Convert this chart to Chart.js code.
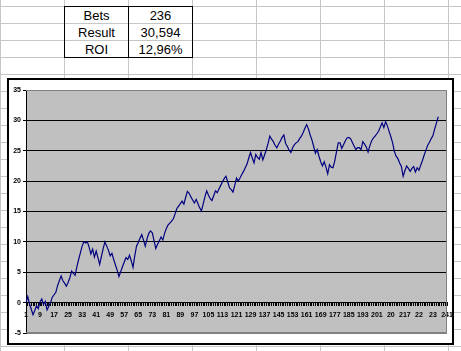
<!DOCTYPE html>
<html><head><meta charset="utf-8">
<script src="https://cdn.jsdelivr.net/npm/chart.js@4"></script>
<style>
html,body{margin:0;padding:0;}
body{width:461px;height:351px;overflow:hidden;position:relative;background:#fff;
 background-image:linear-gradient(to right,#c6c6c6 1px,transparent 1px),linear-gradient(to bottom,#c6c6c6 1px,transparent 1px);
 background-size:64px 100%,100% 17px;background-position:0 0,0 6px;
 font-family:"Liberation Sans",Arial,sans-serif;}
#tbl{position:absolute;left:64px;top:6px;width:129px;height:52px;box-sizing:border-box;border:1px solid #000;background:transparent;}
#tbl .c{position:absolute;height:17px;line-height:17px;font-size:13px;text-align:center;color:#000;}
#tbl .div{position:absolute;left:63px;top:0;width:1px;height:50px;background:#000;}
#box{position:absolute;left:7px;top:78px;width:447px;height:267px;box-sizing:border-box;border:2px solid #000;background:#fff;}
#box canvas{display:block;}
</style></head><body>
<div id="tbl"></div>
<div id="box"><canvas id="c" width="443" height="263"></canvas></div>
<script>
const tableLabels = ['Bets','Result','ROI'];
const tableValues = ['236','30,594','12,96%'];
const categories = Array.from({length:241},(_, i)=>String(i+1));
const shownTickLabels = ['1','9','17','25','33','41','49','57','65','73','81','89','97','105','113','121','129','137','145','153','161','169','177','185','193','201','20','217','22','23','241'];
const yTicks = [-5,0,5,10,15,20,25,30,35];
const result = [
0,1,-0.2,-1.1,-2,-1.3,-0.5,-1,0.1,0.6,
-0.3,0.2,-1.2,-0.6,0,0.9,1.3,1.7,2.8,3.6,
4.4,3.6,3.2,2.7,3.3,4.1,5.2,4.8,4.5,5.9,
7.1,8.2,9.3,10,9.8,10,9.1,8,8.8,7.5,
8.5,7.4,6.3,7.6,8.9,10,9.3,8.6,7.7,8.1,
7.1,6.2,5.3,4.3,5.1,5.9,6.7,7.4,7.1,7.8,
6.9,5.8,7.7,9.3,9.9,10.6,11.2,10.3,9.3,10.5,
11.4,11.8,11.5,10.2,8.9,9.6,10.2,10.8,10.3,11.4,
12.2,12.8,13.1,13.4,13.8,14.6,15.5,15.9,16.3,16.7,
16.2,17.3,18.3,18,17.4,16.9,16.4,17,16.3,15.6,
15.1,16.2,17.4,18.4,17.7,17.1,16.8,17.6,18.4,18.1,
18.7,19.3,19.9,20.4,20.8,19.9,18.9,18.6,18.2,19.3,
20.5,20,20.5,21.1,21.6,22.2,22.8,23.8,24.7,23.8,
23,24.4,23.9,23.6,24.7,23.5,24.3,25.2,26.2,27.4,
26.9,26.5,25.9,25.5,26.1,26.6,27.2,27.6,26.2,25.7,
25.1,24.7,25.5,26,26.3,26.5,27,27.4,28,28.7,
29.3,28.6,27.6,26.8,25.7,24.6,25.2,24.1,23.2,22.5,
23.2,22.3,21.2,22.7,22.3,22.2,23.3,24.8,26.3,
26.3,25.4,26,26.6,27.1,27.2,27,26.4,25.8,25.2,
25.5,25.5,25.2,26.5,26.1,25.6,24.8,25.8,26.6,27.1,
27.4,27.8,28.2,28.9,29.6,28.8,29.8,29.1,28.2,27.3,
26.3,24.9,24.1,23.7,23,22.4,20.8,21.7,22.5,22.1,
21.6,22.1,22.4,21.5,22.2,21.8,22.6,23.4,24.3,25.1,
25.9,26.4,27,27.5,28.6,29.6,30.594
];

// table
const tbl = document.getElementById('tbl');
tableLabels.forEach((l,i)=>{
  const a=document.createElement('div');a.className='c';a.style.left='0px';a.style.width='63px';a.style.top=(i*17)+'px';a.textContent=l;tbl.appendChild(a);
  const b=document.createElement('div');b.className='c';b.style.left='64px';b.style.width='63px';b.style.top=(i*17)+'px';b.textContent=tableValues[i];tbl.appendChild(b);
});
const d=document.createElement('div');d.className='div';tbl.appendChild(d);

const plotBg = {
  id:'plotBg',
  beforeDraw(chart){
    const {ctx,chartArea:a}=chart;
    ctx.save();ctx.fillStyle='#c0c0c0';ctx.fillRect(a.left,a.top,a.right-a.left,a.bottom-a.top);ctx.restore();
  },
  beforeDatasetsDraw(chart){
    const {ctx,chartArea:a}=chart;
    ctx.save();ctx.strokeStyle='#808080';ctx.lineWidth=1;
    ctx.beginPath();ctx.moveTo(a.left,a.top+0.5);ctx.lineTo(a.right-0.5,a.top+0.5);ctx.lineTo(a.right-0.5,a.bottom-0.5);ctx.lineTo(a.left,a.bottom-0.5);ctx.stroke();
    ctx.restore();
  }
};

const tickFont = {family:'"Liberation Sans", Arial, sans-serif', size:7, weight:'bold'};
new Chart(document.getElementById('c'),{
  type:'line',
  data:{labels:categories,datasets:[{data:result,borderColor:'#000080',borderWidth:1.2,pointRadius:0,tension:0,fill:false}]},
  options:{
    responsive:false,animation:false,
    layout:{padding:{left:0,top:10,right:5,bottom:10}},
    plugins:{legend:{display:false},tooltip:{enabled:false}},
    scales:{
      x:{type:'category',position:{y:0},offset:false,
        grid:{drawOnChartArea:false,drawTicks:true,tickLength:3,tickColor:'#000'},
        border:{display:true,color:'#000',width:1},
        ticks:{autoSkip:false,maxRotation:0,minRotation:0,padding:5,color:'#000',font:tickFont,
          callback:(v,i)=> i%8===0 ? shownTickLabels[i/8] : ''},
        afterFit(s){s.height=0;s.paddingLeft=0;s.paddingRight=0;}
      },
      y:{min:-5,max:35,
        afterBuildTicks(s){s.ticks=yTicks.map(v=>({value:v}));},
        grid:{color:(c)=>(c.tick && (c.tick.value===35||c.tick.value===-5))?'#808080':'#000',lineWidth:1,tickLength:3,tickColor:'#000',drawTicks:true},
        border:{display:true,color:'#000',width:1},
        ticks:{padding:2,color:'#000',font:tickFont},
        afterFit(s){s.width=17;}
      }
    }
  },
  plugins:[plotBg]
});
</script>
</body></html>
